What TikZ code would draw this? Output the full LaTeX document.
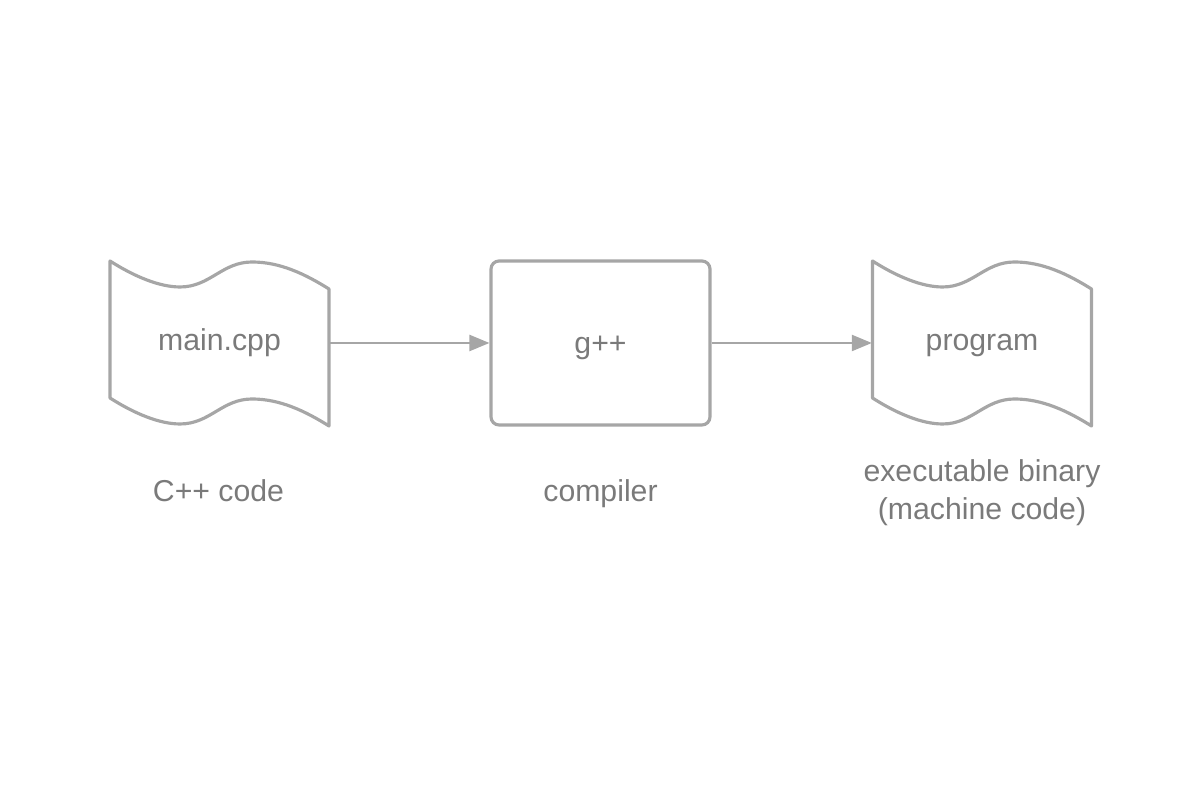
\documentclass[tikz,border=0pt]{standalone}
\usepackage{fontspec}
\setmainfont{Liberation Sans}
\usepackage{tikz}
\usetikzlibrary{arrows.meta,positioning,calc}
\definecolor{lineGray}{HTML}{A6A6A6}
\definecolor{textGray}{HTML}{7A7A7A}
% punched tape outline round a named node
\newcommand{\wavedoc}[1]{%
  \begin{scope}[shift={(#1.center)}]
  \draw[docline] (-1.095,0.82) .. controls (-0.845,0.66) and (-0.595,0.56) .. (-0.395,0.56)
    .. controls (-0.095,0.56) and (0.025,0.81) .. (0.325,0.81)
    .. controls (0.605,0.81) and (0.855,0.69) .. (1.095,0.54)
    -- (1.095,-0.83)
    .. controls (0.855,-0.68) and (0.605,-0.56) .. (0.325,-0.56)
    .. controls (0.025,-0.56) and (-0.095,-0.81) .. (-0.395,-0.81)
    .. controls (-0.595,-0.81) and (-0.845,-0.71) .. (-1.095,-0.55)
    -- cycle;
  \end{scope}}

\begin{document}
\begin{tikzpicture}[
  >=Stealth,
  docline/.style={draw=lineGray, line width=0.9pt, line join=round},
  doc/.style={minimum width=2.19cm, minimum height=1.36cm, inner sep=0pt, text=textGray,
    text height=6pt, text depth=1.5pt, font=\fontsize{8.6}{10.5}\selectfont},
  box/.style={draw=lineGray, line width=0.9pt, rounded corners=2.3pt, minimum width=2.19cm,
    minimum height=1.64cm, inner sep=0pt, text=textGray, text height=6pt, text depth=0.3pt,
    font=\fontsize{8.6}{10.5}\selectfont},
  caption/.style={text=textGray, align=center, anchor=base, font=\fontsize{8.6}{10.8}\selectfont},
  flow/.style={-{Triangle[length=5.7pt,width=4.6pt]}, draw=lineGray, fill=lineGray, line width=0.55pt}
]
\path[use as bounding box] (0,0) rectangle (12,8);

\node[doc] (src) at (2.195, 4.57) {main.cpp};
\node[box] (gpp) at (6.005, 4.57) {g++};
\node[doc] (prog) at (9.82, 4.57) {program};
\wavedoc{src}
\wavedoc{prog}

\draw[flow] (src.east) -- (gpp.west);
\draw[flow] (gpp.east) -- (prog.west);

\node[caption] (srcnote) at (2.185, 2.985) {C++ code};
\node[caption] (gppnote) at (6.005, 2.985) {compiler};
\node[caption] (prognote) at (9.82, 2.805) {executable binary\\(machine code)};
\end{tikzpicture}
\end{document}
